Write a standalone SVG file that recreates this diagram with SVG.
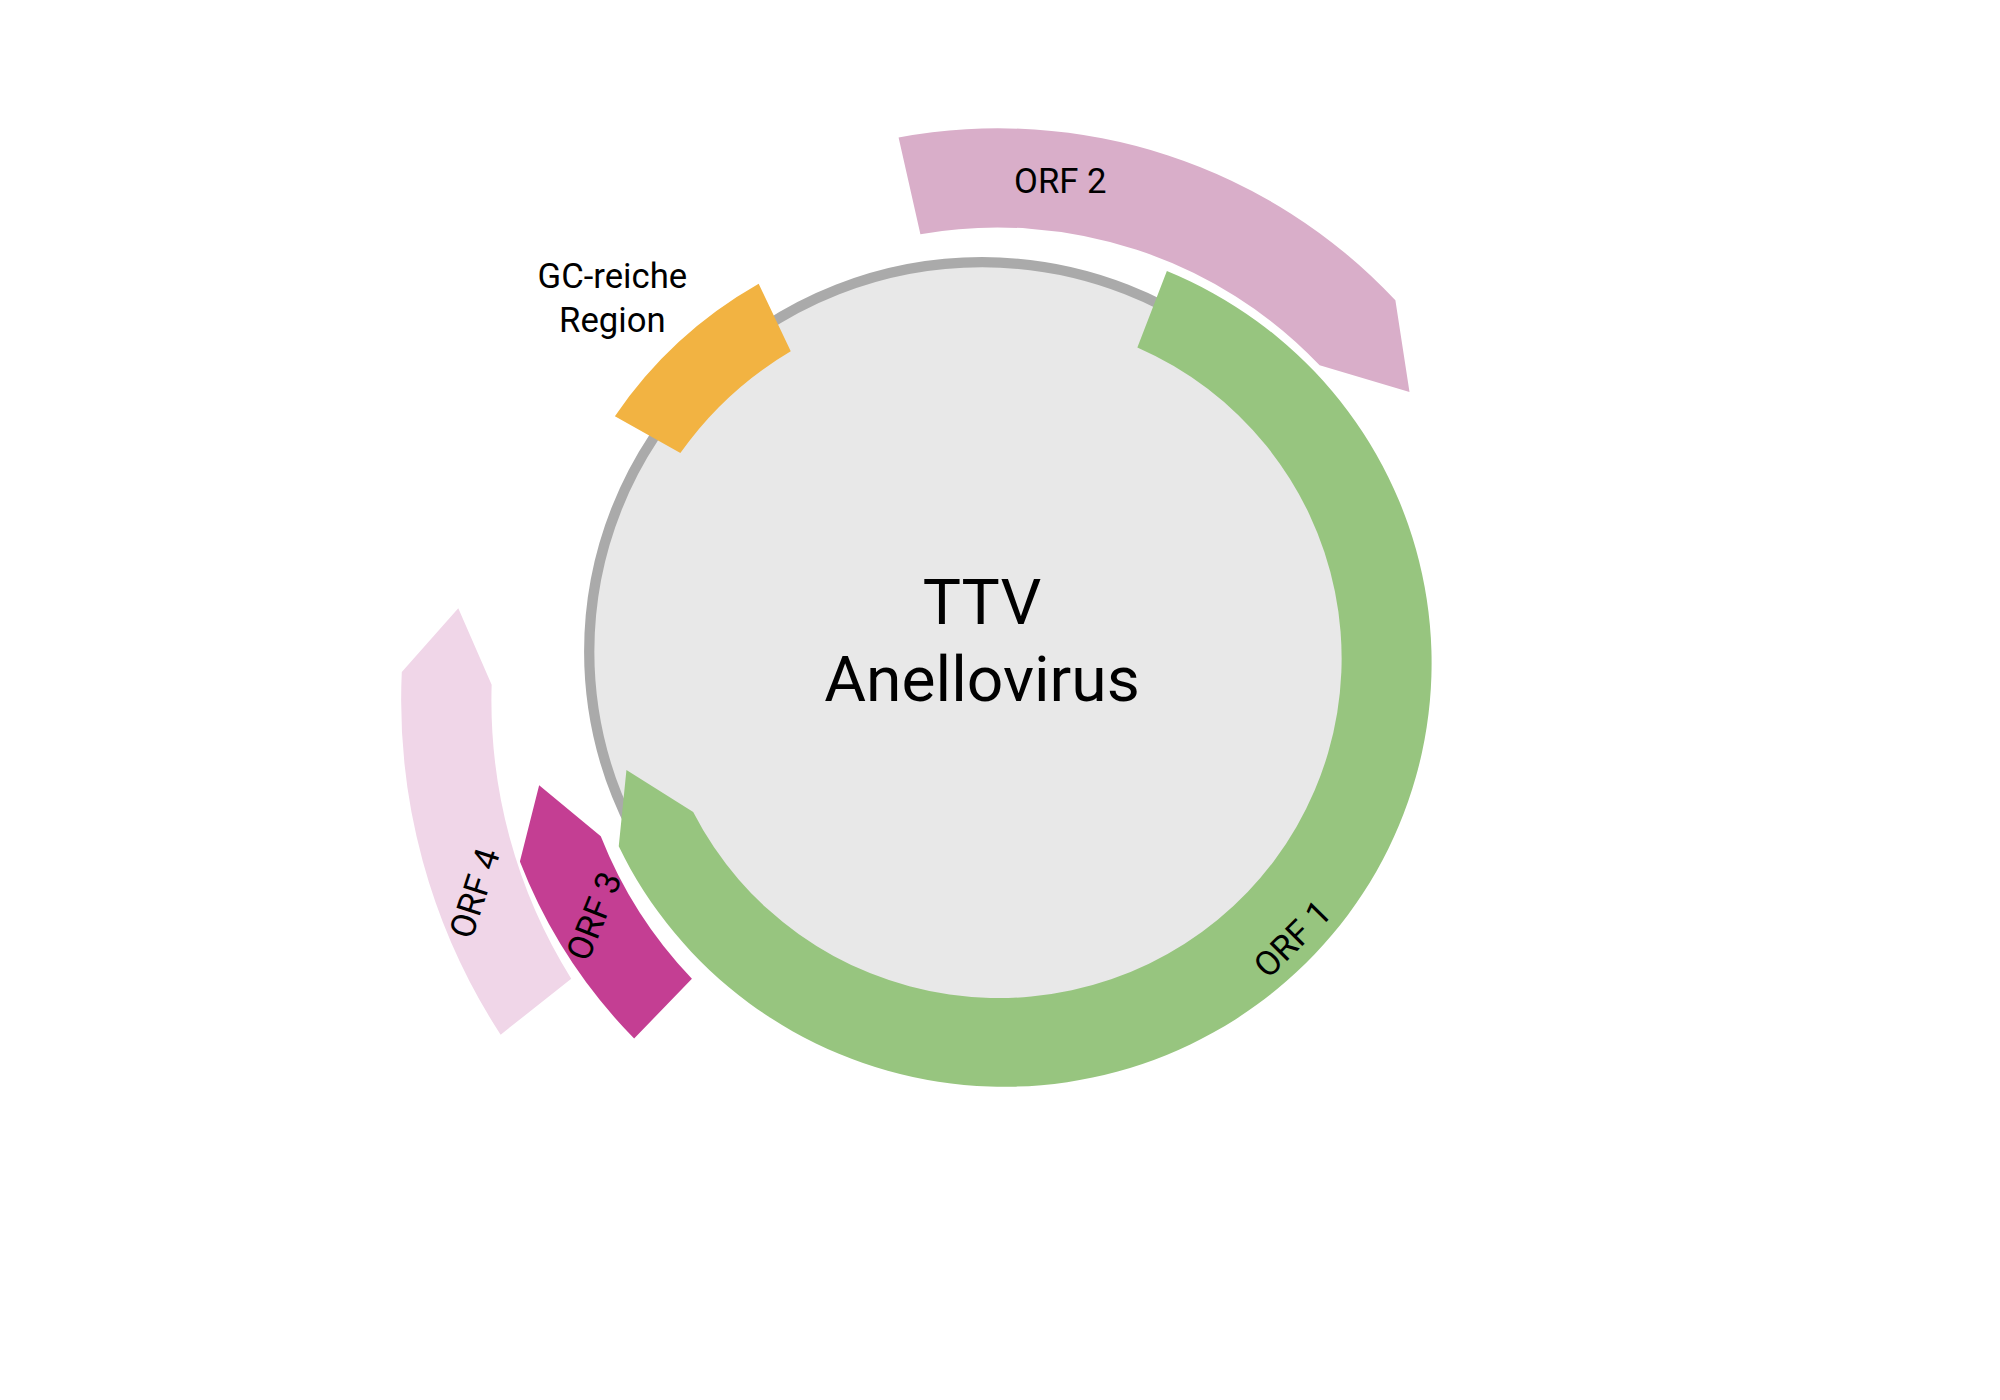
<svg xmlns="http://www.w3.org/2000/svg" width="2000" height="1400" viewBox="0 0 2000 1400">
<style>
text{font-family:Roboto,"Liberation Sans",sans-serif;fill:#000;text-anchor:middle}
.l{font-size:27px}
</style>
<rect width="2000" height="1400" fill="#fff"/>
<g transform="scale(1.2837,1.2727)">
<g id="genome"><circle cx="765" cy="512" r="306" fill="#e8e8e8" stroke="#aaaaaa" stroke-width="8"/>
<text x="765" y="490" font-size="50">TTV</text>
<text x="765" y="551" font-size="50">Anellovirus</text></g>
<g id="gc"><path d="M591,223 A338,338 0 0 0 479,327 L530,356 A280,280 0 0 1 616,276 Z" fill="#f2b342"/>
<text class="l" x="477" y="226">GC-reiche</text><text class="l" x="477" y="261">Region</text></g>
<g id="orf2"><path d="M700,108 A422,422 0 0 1 1087,236 L1098,308 L1028,287 A345,345 0 0 0 717,184 Z" fill="#d9aec9"/>
<text class="l" x="826" y="152">ORF 2</text></g>
<g id="orf1"><path d="M909,213 A333,333 0 1 1 482,665 L488,605 L540,638 A267,267 0 1 0 886,273 Z" fill="#97c57f"/>
<text class="l" transform="translate(1007,738) rotate(-45)" y="9">ORF 1</text></g>
<g id="orf3"><path d="M420,617 L468,657 A345,345 0 0 0 539,769 L494,816 A410,410 0 0 1 405,677 Z" fill="#c43e93"/>
<text class="l" transform="translate(463,720) rotate(-68)" y="9">ORF 3</text></g>
<g id="orf4"><path d="M357,478 L383,538 A415,415 0 0 0 445,769 L390,813 A485,485 0 0 1 313,528 Z" fill="#f0d6e8"/>
<text class="l" transform="translate(370,702) rotate(-72)" y="9">ORF 4</text></g>
<g id="connectors"/>
</g>
</svg>
